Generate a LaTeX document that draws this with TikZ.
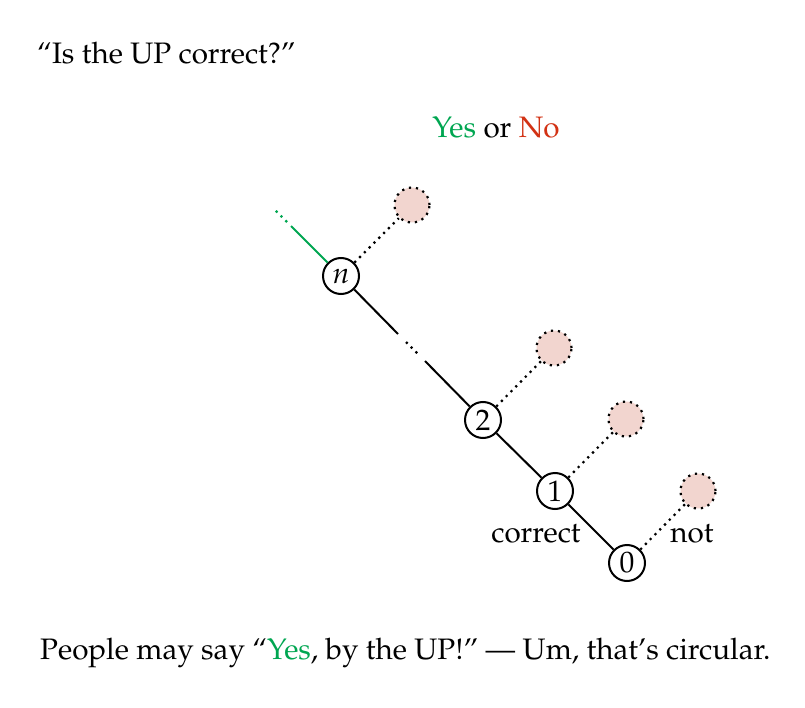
\documentclass[tikz,border=0pt]{standalone}
\usepackage[T1]{fontenc}
\usepackage{mathpazo}
\definecolor{yesgreen}{RGB}{0,166,81}
\definecolor{nored}{RGB}{210,50,20}
\definecolor{pinkfill}{RGB}{242,213,207}
\begin{document}
\begin{tikzpicture}[x=1pt,y=-1pt,
  txt/.style={font=\fontsize{29.6}{34}\selectfont,inner sep=0pt},
  num/.style={circle,draw,line width=2pt,minimum size=36pt,inner sep=0pt,fill=white,font=\fontsize{29.6}{34}\selectfont},
  ghost/.style={circle,fill=pinkfill,draw,line width=2.2pt,dash pattern=on 2.2pt off 4.9pt,minimum size=35pt,inner sep=0pt},
  link/.style={line width=2pt},
  opt/.style={line width=2.2pt,dash pattern=on 2.2pt off 4.6pt}]
\useasboundingbox (0,0) rectangle (805,708);
% texts
\node[txt,anchor=base west] (title) at (37,64) {``Is the UP correct?''};
\node[txt,anchor=base] (yesno) at (496,138) {\textcolor{yesgreen}{Yes} or \textcolor{nored}{No}};
\node[txt,anchor=base west] (bottom) at (40,659) {People may say ``\textcolor{yesgreen}{Yes}, by the UP!'' --- Um, that's circular.};
% chain nodes
\node[num] (n) at (341,276) {$n$};
\node[num] (two) at (483,420) {2};
\node[num] (one) at (555,491) {1};
\node[num] (zero) at (627,563) {0};
% ghost alternatives
\node[ghost] (gn) at (412,205) {};
\node[ghost] (g2) at (554,348) {};
\node[ghost] (g1) at (626,419) {};
\node[ghost] (g0) at (698,491) {};
% labels
\node[txt,anchor=base] (correct) at (536,542) {correct};
\node[txt,anchor=base] (not) at (692,542) {not};
% helper coordinates
\coordinate (up1) at (291,226);
\coordinate (up2) at (287,222);
\coordinate (up3) at (275,210);
\coordinate (m1) at (398,334);
\coordinate (m2) at (406,342);
\coordinate (m3) at (419,355);
\coordinate (m4) at (425,361);
% chain
\draw[link,yesgreen] (n) -- (up1);
\draw[opt,yesgreen] (up2) -- (up3);
\draw[link] (n) -- (m1);
\draw[opt] (m2) -- (m3);
\draw[link] (m4) -- (two);
\draw[link] (two) -- (one);
\draw[link] (one) -- (zero);
% alternatives
\draw[opt] (n) -- (gn);
\draw[opt] (two) -- (g2);
\draw[opt] (one) -- (g1);
\draw[opt] (zero) -- (g0);
\end{tikzpicture}
\end{document}
